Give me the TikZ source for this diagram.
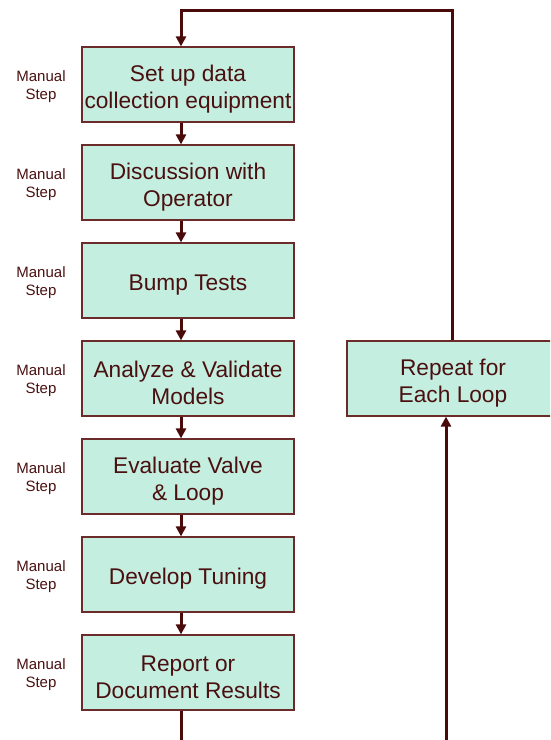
\documentclass[tikz,border=0pt]{standalone}
\usepackage{fontspec}
\setmainfont{Liberation Sans}
\usetikzlibrary{arrows.meta}
\definecolor{boxfill}{HTML}{C4EEE0}
\definecolor{boxline}{HTML}{6B2B2B}
\definecolor{txt}{HTML}{4A1010}
\definecolor{flowline}{HTML}{4A0A0A}
\newcommand\topgap[1]{\rule{0pt}{#1}}
\begin{document}
\begin{tikzpicture}[x=1pt,y=-1pt,
  stepbox/.style={draw=boxline,line width=1.2pt,fill=boxfill,text=txt,minimum width=212pt,minimum height=75pt,align=center,inner sep=0pt,font=\fontsize{22.7}{27}\selectfont},
  manual/.style={text=txt,align=center,font=\fontsize{15}{18}\selectfont},
  flow/.style={draw=flowline,line width=3pt,-{Triangle[width=10pt,length=10pt]}}]
    \clip(0,0)rectangle(550,740);
    \coordinate(spine)at(181,0);
    \foreach \t[count=\i] in{Set up data\\collection equipment,Discussion with\\Operator,Bump Tests,Analyze \& Validate\\Models,Evaluate Valve\\\& Loop,Develop Tuning,Report or\\Document Results}{
        \node[stepbox](b\i)at(188,{84.5+98*(\i-1)}){\topgap{25pt}\t};
        \node[manual](m\i)at(41,{84.5+98*(\i-1)}){\topgap{16pt}Manual\\Step};
    }
    \foreach \i[evaluate=\i as \j using int(\i+1)] in{1,...,6}
    \draw[flow](b\i.south -| spine)--(b\j.north -| spine);
    \node[stepbox](rep)at(453,378.5){\topgap{25pt}Repeat for\\Each Loop};
    \coordinate(exit)at(181,750);
    \coordinate(entry)at(446,750);
    \coordinate(top)at(452,10);
    \draw[draw=flowline,line width=3pt](b7.south -| spine)--(exit);
    \draw[flow](entry)--(rep.south -| entry);
    \draw[flow](rep.north -| top)--(top)-|(b1.north -| spine);
\end{tikzpicture}
\end{document}
